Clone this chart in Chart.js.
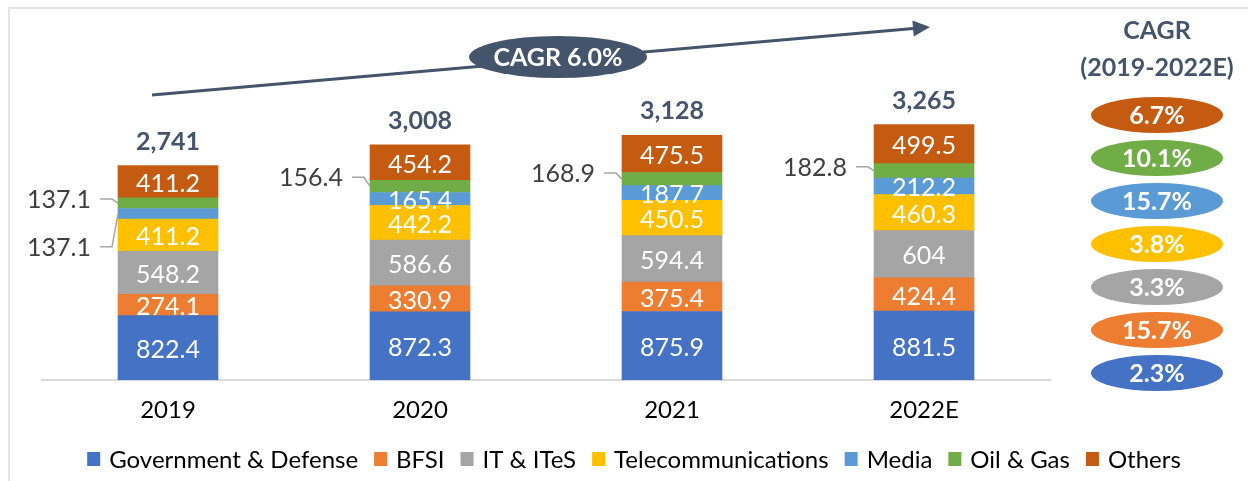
<!DOCTYPE html>
<html>
<head>
<meta charset="utf-8">
<script src="https://cdn.jsdelivr.net/npm/chart.js@4.4.1/dist/chart.umd.min.js"></script>
<style>
html,body{margin:0;padding:0;background:#fff;}
canvas{display:block;}
</style>
</head>
<body>
<canvas id="c" width="1248" height="481"></canvas>
<script>
// ---- data ----
const categories = ['2019', '2020', '2021', '2022E'];
const govDefense = [822.4, 872.3, 875.9, 881.5];
const bfsi       = [274.1, 330.9, 375.4, 424.4];
const itItes     = [548.2, 586.6, 594.4, 604];
const telecom    = [411.2, 442.2, 450.5, 460.3];
const media      = [137.1, 165.4, 187.7, 212.2];
const oilGas     = [137.1, 156.4, 168.9, 182.8];
const others     = [411.2, 454.2, 475.5, 499.5];
const totals     = ['2,741', '3,008', '3,128', '3,265'];
const seriesNames = ['Government & Defense', 'BFSI', 'IT & ITeS', 'Telecommunications', 'Media', 'Oil & Gas', 'Others'];
const seriesCagr  = ['2.3%', '15.7%', '3.3%', '3.8%', '15.7%', '10.1%', '6.7%'];
const overallCagr = 'CAGR 6.0%';
const cagrTitle = ['CAGR', '(2019-2022E)'];

// ---- styles ----
const colors = ['#4472C4', '#ED7D31', '#A5A5A5', '#FFC000', '#5B9BD5', '#70AD47', '#C55A11'];
const FONT = 'Lato, "Open Sans", sans-serif';
const DARK = '#44546A';
// labels drawn outside the bar with a leader line: [seriesIndex, categoryIndex, dy]
const outsideLabels = [[5, 0, -4], [4, 0, 33], [5, 1, -9], [5, 2, -6], [5, 3, -4]];

const seriesData = [govDefense, bfsi, itItes, telecom, media, oilGas, others];

const decor = {
  id: 'decor',
  beforeDraw(chart) {
    const ctx = chart.ctx;
    ctx.save();
    ctx.strokeStyle = '#E3E3E3';
    ctx.lineWidth = 2;
    ctx.beginPath();
    ctx.moveTo(9, 481);
    ctx.lineTo(9, 8);
    ctx.lineTo(1248, 8);
    ctx.stroke();
    ctx.restore();
  },
  afterDraw(chart) {
    const ctx = chart.ctx;
    ctx.save();
    const isOutside = (d, i) => outsideLabels.some(o => o[0] === d && o[1] === i);

    // segment labels
    chart.data.datasets.forEach((ds, d) => {
      const meta = chart.getDatasetMeta(d);
      meta.data.forEach((el, i) => {
        const cy = (el.y + el.base) / 2;
        const txt = String(ds.data[i]);
        if (isOutside(d, i)) {
          const o = outsideLabels.find(o => o[0] === d && o[1] === i);
          const left = el.x - el.width / 2;
          const ly = cy + o[2];
          const rx = left - 27;
          ctx.font = '25px ' + FONT;
          ctx.fillStyle = '#404040';
          ctx.textAlign = 'right';
          ctx.textBaseline = 'middle';
          ctx.fillText(txt, rx, ly + 1);
          ctx.strokeStyle = '#A6A6A6';
          ctx.lineWidth = 1.5;
          ctx.beginPath();
          ctx.moveTo(rx + 9, ly);
          ctx.lineTo(left - 6, ly);
          ctx.lineTo(left, cy);
          ctx.stroke();
        } else {
          ctx.font = '25px ' + FONT;
          ctx.fillStyle = '#FFFFFF';
          ctx.textAlign = 'center';
          ctx.textBaseline = 'middle';
          ctx.fillText(txt, el.x, cy + 2);
        }
      });
    });

    // totals
    const topMeta = chart.getDatasetMeta(chart.data.datasets.length - 1);
    topMeta.data.forEach((el, i) => {
      ctx.font = 'bold 25px ' + FONT;
      ctx.fillStyle = DARK;
      ctx.textAlign = 'center';
      ctx.textBaseline = 'middle';
      ctx.fillText(totals[i], el.x, el.y - 24);
    });

    // growth arrow
    const first = chart.getDatasetMeta(0).data[0];
    const last = chart.getDatasetMeta(0).data[categories.length - 1];
    const x0 = first.x - 16, y0 = 95, x1 = last.x + 6, y1 = 27;
    const ang = Math.atan2(y1 - y0, x1 - x0);
    ctx.strokeStyle = DARK;
    ctx.fillStyle = DARK;
    ctx.lineWidth = 3;
    ctx.beginPath();
    ctx.moveTo(x0, y0);
    ctx.lineTo(x1 - 14 * Math.cos(ang), y1 - 14 * Math.sin(ang));
    ctx.stroke();
    ctx.beginPath();
    ctx.moveTo(x1, y1);
    ctx.lineTo(x1 - 17 * Math.cos(ang) + 8 * Math.sin(ang), y1 - 17 * Math.sin(ang) - 8 * Math.cos(ang));
    ctx.lineTo(x1 - 17 * Math.cos(ang) - 8 * Math.sin(ang), y1 - 17 * Math.sin(ang) + 8 * Math.cos(ang));
    ctx.closePath();
    ctx.fill();
    // CAGR bubble
    ctx.beginPath();
    ctx.ellipse(558, 57, 89, 21, 0, 0, Math.PI * 2);
    ctx.fill();
    ctx.font = 'bold 25px ' + FONT;
    ctx.fillStyle = '#FFFFFF';
    ctx.textAlign = 'center';
    ctx.textBaseline = 'middle';
    ctx.fillText(overallCagr, 558, 58);

    // right CAGR column
    const cx = 1157;
    ctx.fillStyle = DARK;
    ctx.font = 'bold 25px ' + FONT;
    ctx.fillText(cagrTitle[0], cx, 31);
    ctx.fillText(cagrTitle[1], cx, 68);
    for (let k = 0; k < seriesCagr.length; k++) {
      const s = seriesCagr.length - 1 - k;
      const cy = 115 + 43 * k;
      ctx.fillStyle = colors[s];
      ctx.beginPath();
      ctx.ellipse(cx, cy, 66, 18, 0, 0, Math.PI * 2);
      ctx.fill();
      ctx.fillStyle = '#FFFFFF';
      ctx.font = 'bold 25px ' + FONT;
      ctx.fillText(seriesCagr[s], cx, cy + 1);
    }

    // legend
    ctx.font = '24px ' + FONT;
    ctx.textAlign = 'left';
    ctx.textBaseline = 'middle';
    const box = 13, gapBox = 9, gapItem = 16;
    let total = 0;
    const widths = seriesNames.map(n => ctx.measureText(n).width);
    widths.forEach(w => total += box + gapBox + w);
    total += gapItem * (seriesNames.length - 1);
    let lx = 634 - total / 2;
    const ly = 459;
    seriesNames.forEach((n, s) => {
      ctx.fillStyle = colors[s];
      ctx.fillRect(lx, ly - 7, box, box + 1);
      ctx.fillStyle = '#000000';
      ctx.fillText(n, lx + box + gapBox, ly + 1);
      lx += box + gapBox + widths[s] + gapItem;
    });
    ctx.restore();
  }
};

new Chart(document.getElementById('c'), {
  type: 'bar',
  data: {
    labels: categories,
    datasets: seriesNames.map((n, s) => ({
      label: n,
      data: seriesData[s],
      backgroundColor: colors[s],
      borderWidth: 0,
      barThickness: 100
    }))
  },
  options: {
    responsive: false,
    animation: false,
    layout: { padding: { left: 42, right: 198, top: 28, bottom: 6 } },
    plugins: { legend: { display: false }, tooltip: { enabled: false }, title: { display: false } },
    scales: {
      x: {
        stacked: true,
        grid: { display: false, drawTicks: false },
        border: { display: true, color: '#D9D9D9', width: 2 },
        ticks: { color: '#000000', font: { family: FONT, size: 24 }, padding: 16 },
        afterFit(scale) { scale.height = 95; }
      },
      y: {
        stacked: true,
        display: false,
        min: 0,
        max: 4500
      }
    }
  },
  plugins: [decor]
});
</script>
</body>
</html>
